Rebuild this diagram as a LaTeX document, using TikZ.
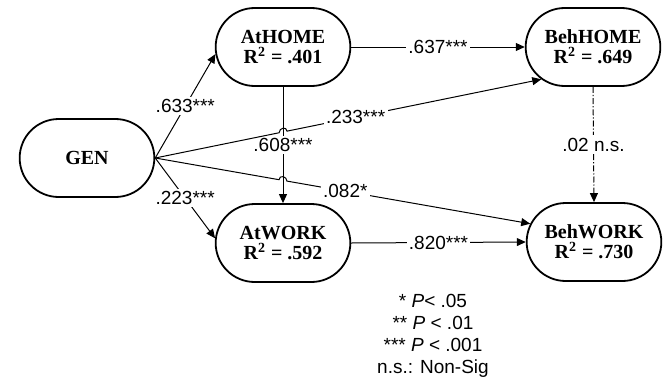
\documentclass[tikz,border=0pt]{standalone}
\usepackage{fontspec}
\setmainfont{Liberation Serif}
\newfontfamily\labelfont{Liberation Sans}
\usepackage{tikz}
\usetikzlibrary{positioning,arrows.meta,shapes.misc,calc,intersections}

\tikzset{
  box/.style={rounded rectangle, draw, line width=0.9pt, minimum width=74pt,
    minimum height=39pt, align=center, font=\bfseries\fontsize{10}{10}\selectfont},
  link/.style={line width=0.5pt, -{Triangle[length=4.5pt,width=4pt]}},
  lbl/.style={fill=white, inner sep=1.2pt, font=\labelfont\fontsize{9.5}{11}\selectfont},
}

\begin{document}
\begin{tikzpicture}[x=0.5pt, y=0.5pt]
\useasboundingbox (0,0) rectangle (669,382);

% constructs
\node [box] (gen) at (87,224) {GEN};
\node [box] (athome) at (283,335) {AtHOME\\R\textsuperscript{2} = .401};
\node [box] (behhome) at (593,335) {BehHOME\\R\textsuperscript{2} = .649};
\node [box] (atwork) at (283,139) {AtWORK\\R\textsuperscript{2} = .592};
\node [box] (behwork) at (594,140) {BehWORK\\R\textsuperscript{2} = .730};

% paths
\draw [link] (gen.east) -- node [lbl] {.633***} (athome.186);
\draw [link] (gen.east) -- node [lbl] {.223***} (atwork.176);
\draw [link] (athome.south) -- node [lbl] {.608***} (atwork.north);
\draw [link] (athome.east) -- node [lbl] {.637***} (behhome.west);
\draw [link] (atwork.east) -- node [lbl] {.820***} (behwork.west);
\draw [link, dash pattern=on 3pt off 1pt on 0.6pt off 1pt] (behhome.south) -- node [lbl] {.02 n.s.} (behwork.north);

% line jumps over AtHOME -> AtWORK
\path [name path=midline] (athome.south) -- (atwork.north);
\path [name path=toBH] (gen.east) -- (behhome.212);
\path [name path=toBW] (gen.east) -- (behwork.164);
\path [name intersections={of=midline and toBH, by=hopA}];
\path [name intersections={of=midline and toBW, by=hopB}];

\draw [link] (gen.east) -- ($(hopA)!2pt!(gen.east)$)
  to [out=90, in=90, looseness=1.6] ($(hopA)!2pt!(behhome.212)$)
  -- node [lbl, pos=0.27] {.233***} (behhome.212);
\draw [link] (gen.east) -- ($(hopB)!2pt!(gen.east)$)
  to [out=90, in=90, looseness=1.6] ($(hopB)!2pt!(behwork.164)$)
  -- node [lbl, pos=0.24] {.082*} (behwork.164);

% key
\node [lbl, align=center] (key) at (433,46)
  {* \textit{P}< .05\\** \textit{P} < .01\\*** \textit{P} < .001\\n.s.: Non-Sig};
\end{tikzpicture}
\end{document}
